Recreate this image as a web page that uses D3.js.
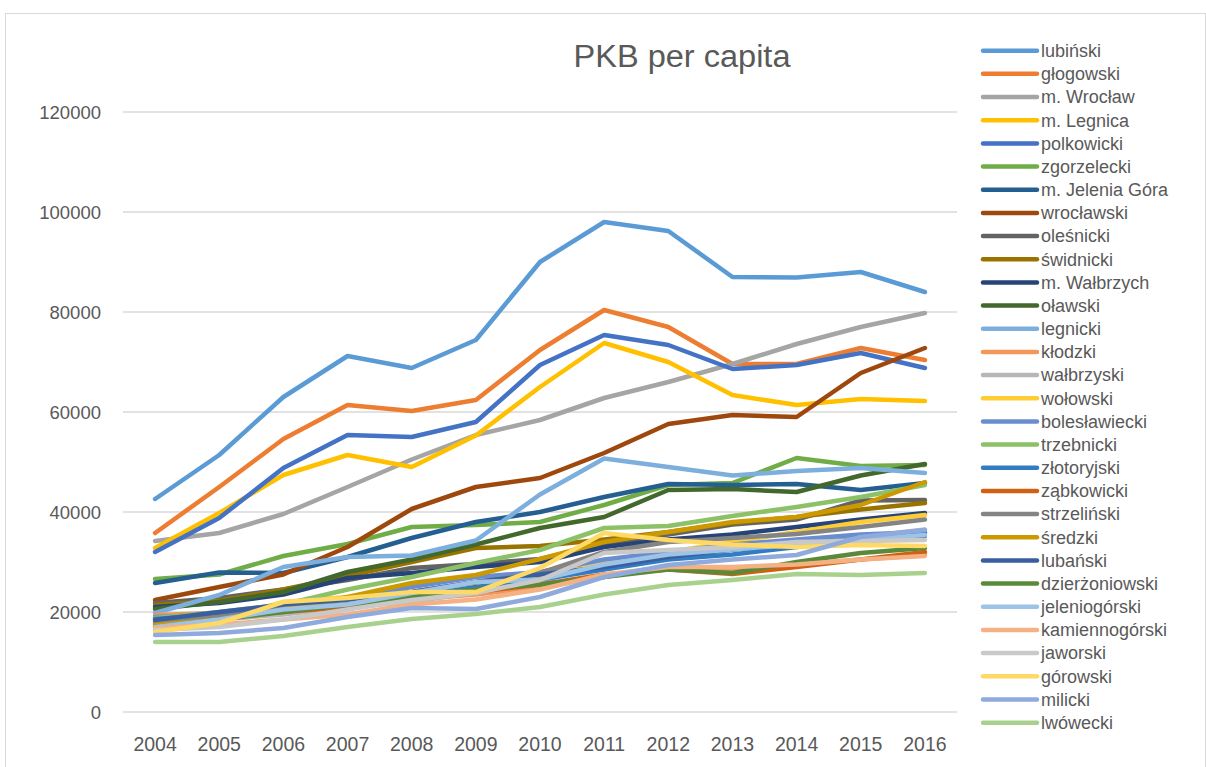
<!DOCTYPE html>
<html><head><meta charset="utf-8">
<script src="https://cdn.jsdelivr.net/npm/d3@7"></script>
<style>body{margin:0;background:#fff}svg{display:block}</style>
</head><body>
<script>
const years = [2004,2005,2006,2007,2008,2009,2010,2011,2012,2013,2014,2015,2016];
const yTicks = [0,20000,40000,60000,80000,100000,120000];
const title = "PKB per capita";

const lubinski      = [42600,51400,63000,71200,68800,74400,90000,98000,96200,87000,86900,88000,84000];
const glogowski     = [35800,45000,54600,61400,60200,62400,72400,80400,77000,69600,69600,72800,70400];
const mWroclaw      = [34200,35800,39600,45000,50500,55400,58400,62800,66000,69600,73600,77000,79800];
const mLegnica      = [32800,39800,47400,51400,49000,55300,65000,73800,70000,63400,61400,62600,62200];
const polkowicki    = [32000,38800,48800,55400,55000,58000,69400,75400,73400,68600,69400,71800,68800];
const zgorzelecki   = [26600,27500,31200,33600,37000,37400,38000,41400,45400,45800,50800,49200,49400];
const mJeleniaGora  = [25800,27900,27800,31000,34800,38000,40000,43000,45600,45400,45600,44400,45800];
const wroclawski    = [22400,25000,27500,33000,40600,45000,46800,51800,57600,59400,59000,67800,72800];
const olesnicki     = [21800,22800,24500,26400,28800,29600,30600,33500,35500,37500,38500,42300,42400];
const swidnicki     = [21400,22200,24500,27200,30000,32800,33200,34500,36000,37800,39000,40500,41800];
const mWalbrzych    = [21000,21800,23500,26800,27800,29000,30000,33000,34500,35500,37000,38500,39800];
const olawski       = [20600,22000,24000,28000,30500,33500,36800,39000,44400,44600,44000,47300,49600];
const legnicki      = [19800,23400,29000,31000,31300,34300,43500,50700,49000,47300,48200,48800,47800];
const klodzki       = [19400,19800,20500,21500,22500,23500,25000,27000,29000,28200,29500,30500,31400];
const walbrzyski    = [17500,18500,19500,21000,22000,24000,26000,30000,31500,32500,33500,35000,36500];
const wolowski      = [16600,18500,22000,23000,24000,25500,27000,30000,32000,34000,36000,38000,39400];
const boleslawiecki = [19000,19500,21500,22500,25000,27000,28000,30500,32000,33500,34500,35500,36000];
const trzebnicki    = [18800,20000,21500,24500,27000,29800,32400,36800,37200,39200,41000,43000,45400];
const zlotoryjski   = [18600,19500,20500,21500,23000,25000,26500,28500,30500,31500,33000,34500,35800];
const zabkowicki    = [18000,19000,20000,21000,22500,24000,25500,27500,28500,27600,29000,30500,32000];
const strzelinski   = [17800,19000,20500,22500,24000,26000,27800,32000,34000,34800,35600,37000,38500];
const sredzki       = [17400,18500,20500,23000,25800,27400,30600,34000,36000,38000,39000,41400,46000];
const lubanski      = [18400,20000,21500,22500,24000,26000,27500,29000,31000,32500,33500,34500,35200];
const dzierzoniowski= [17000,18500,20000,21500,23000,24500,25500,27000,28500,27800,30000,31800,32800];
const jeleniogorski = [17000,18500,20500,21500,23800,26000,26500,29500,31500,32500,33500,34500,35400];
const kamiennogorski= [16800,17500,18500,19500,21500,22500,24500,27500,29000,29000,29500,30500,31200];
const jaworski      = [16400,17000,18500,20500,22400,23800,26400,31800,32400,33000,34000,34200,34400];
const gorowski      = [16000,17800,22000,22800,24000,24000,28800,35800,34400,33500,33000,33400,33200];
const milicki       = [15400,15800,16800,19000,20800,20600,23000,27000,29400,30500,31400,35000,36400];
const lwowecki      = [14000,14000,15200,17000,18600,19600,21000,23500,25400,26400,27600,27400,27800];

const seriesNames = ["lubiński","głogowski","m. Wrocław","m. Legnica","polkowicki","zgorzelecki","m. Jelenia Góra","wrocławski","oleśnicki","świdnicki","m. Wałbrzych","oławski","legnicki","kłodzki","wałbrzyski","wołowski","bolesławiecki","trzebnicki","złotoryjski","ząbkowicki","strzeliński","średzki","lubański","dzierżoniowski","jeleniogórski","kamiennogórski","jaworski","górowski","milicki","lwówecki"];
const seriesValues = [lubinski,glogowski,mWroclaw,mLegnica,polkowicki,zgorzelecki,mJeleniaGora,wroclawski,olesnicki,swidnicki,mWalbrzych,olawski,legnicki,klodzki,walbrzyski,wolowski,boleslawiecki,trzebnicki,zlotoryjski,zabkowicki,strzelinski,sredzki,lubanski,dzierzoniowski,jeleniogorski,kamiennogorski,jaworski,gorowski,milicki,lwowecki];
const colors = ["#5B9BD5","#ED7D31","#A5A5A5","#FFC000","#4472C4","#70AD47","#255E91","#9E480E","#636363","#997300","#264478","#43682B","#7CAFDD","#F1975A","#B7B7B7","#FFCD33","#698ED0","#8CC168","#327DC2","#D26012","#848484","#CC9A00","#3A5FA0","#5A8A39","#9DC3E6","#F4B183","#C9C9C9","#FFD966","#8FAADC","#A9D18E"];

const W = 1206, H = 767;
const svg = d3.select("body").append("svg").attr("width", W).attr("height", H);
const font = "'Liberation Sans', Arial, sans-serif";

svg.append("rect").attr("x",5.5).attr("y",13.5).attr("width",1200).attr("height",760)
  .attr("fill","#fff").attr("stroke","#d9d9d9").attr("stroke-width",1);

const x = d3.scaleBand().domain(years).range([123, 957]);
const y = d3.scaleLinear().domain([0, 120000]).range([712, 112]);

svg.append("g").selectAll("line").data(yTicks).join("line")
  .attr("x1",123).attr("x2",957)
  .attr("y1",d=>y(d)).attr("y2",d=>y(d))
  .attr("stroke","#d9d9d9").attr("stroke-width",1.3);

const yAxis = d3.axisLeft(y).tickValues(yTicks).tickSize(0).tickPadding(0).tickFormat(d=>String(d));
const gy = svg.append("g").attr("transform","translate(101,0)").call(yAxis);
gy.select(".domain").remove();
gy.selectAll("text").attr("font-family",font).attr("font-size",18.5).attr("fill","#595959").attr("dy","0.35em");

const xAxis = d3.axisBottom(x).tickSize(0).tickPadding(0).tickFormat(d=>String(d));
const gx = svg.append("g").attr("transform","translate(0,737)").call(xAxis);
gx.select(".domain").remove();
gx.selectAll("text").attr("font-family",font).attr("font-size",19.5).attr("fill","#595959").attr("dy","0.71em");

const line = d3.line().x((d,i)=>x(years[i]) + x.bandwidth()/2).y(d=>y(d));
svg.append("g").selectAll("path").data(seriesValues).join("path")
  .attr("d", d=>line(d))
  .attr("fill","none")
  .attr("stroke",(d,i)=>colors[i])
  .attr("stroke-width",4.5)
  .attr("stroke-linejoin","round")
  .attr("stroke-linecap","round");

svg.append("text").attr("x",682).attr("y",67).attr("text-anchor","middle")
  .attr("font-family",font).attr("font-size",31).attr("fill","#595959")
  .attr("textLength",217).attr("lengthAdjust","spacingAndGlyphs")
  .text(title);

const leg = svg.append("g");
const rowH = 23.17, row0 = 50.7;
const items = leg.selectAll("g").data(seriesNames).join("g")
  .attr("transform",(d,i)=>`translate(0,${row0 + i*rowH})`);
items.append("line").attr("x1",983).attr("x2",1037).attr("y1",0).attr("y2",0)
  .attr("stroke",(d,i)=>colors[i]).attr("stroke-width",4.5).attr("stroke-linecap","round");
items.append("text").attr("x",1041).attr("y",0).attr("dy","0.35em")
  .attr("font-family",font).attr("font-size",18).attr("fill","#595959")
  .text(d=>d);
</script>
</body></html>
